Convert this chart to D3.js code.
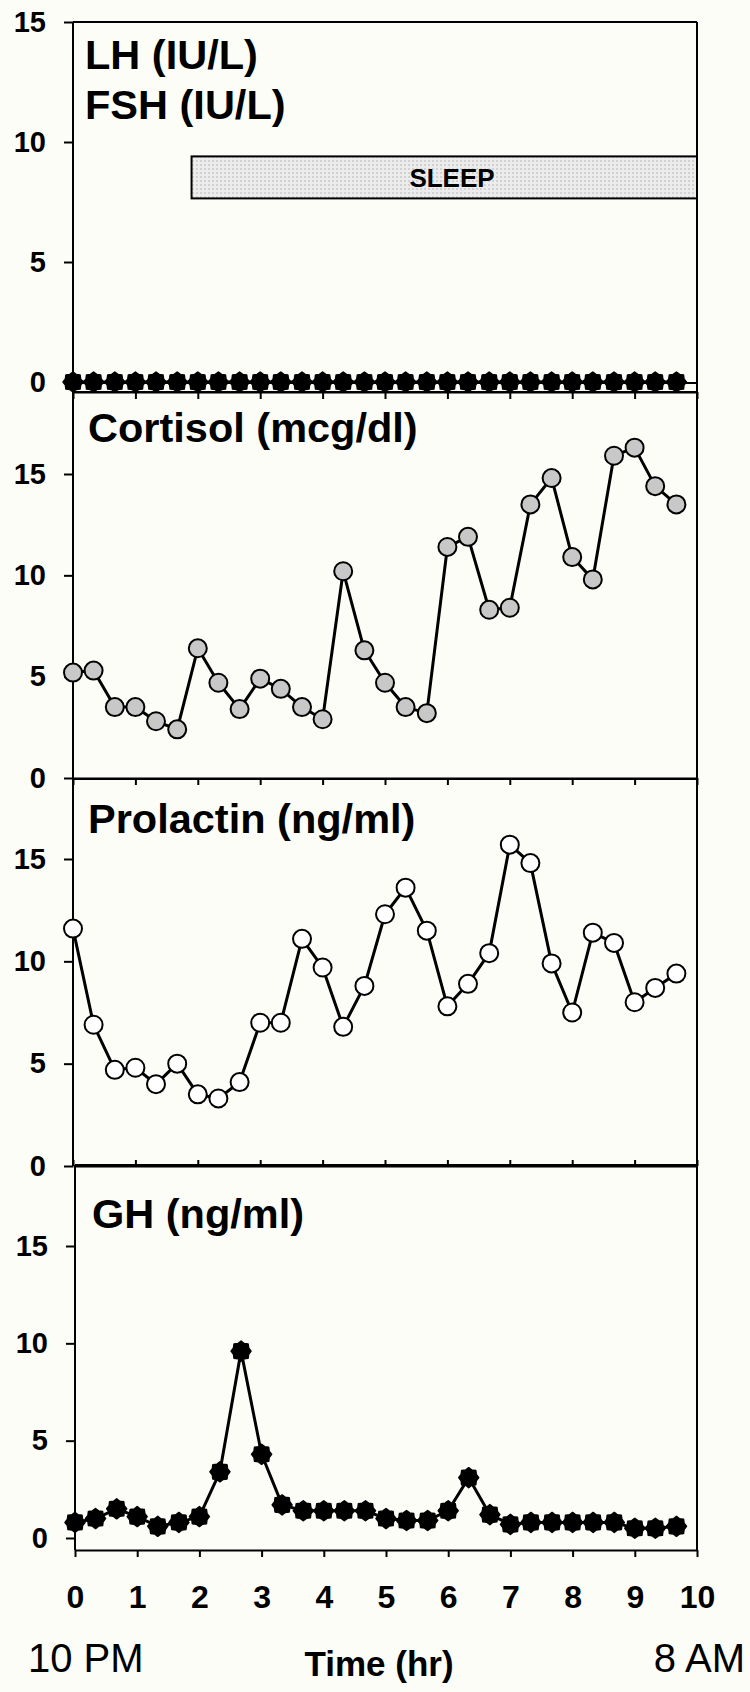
<!DOCTYPE html>
<html>
<head>
<meta charset="utf-8">
<script src="https://cdn.jsdelivr.net/npm/d3@7"></script>
<style>
  body { margin: 0; background: #fdfdf8; }
  svg { display: block; }
  text { font-family: "Liberation Sans", Arial, sans-serif; fill: #000; }
</style>
</head>
<body>
<svg id="chart"></svg>
<script>
// sample times (hr after 10 PM), one every 20 min
var hours = [0, 0.33, 0.67, 1, 1.33, 1.67, 2, 2.33, 2.67, 3, 3.33, 3.67, 4, 4.33, 4.67,
  5, 5.33, 5.67, 6, 6.33, 6.67, 7, 7.33, 7.67, 8, 8.33, 8.67, 9, 9.33, 9.67];

var lh = [0, 0, 0, 0, 0, 0, 0, 0, 0, 0, 0, 0, 0, 0, 0,
  0, 0, 0, 0, 0, 0, 0, 0, 0, 0, 0, 0, 0, 0, 0];
var cortisol = [5.2, 5.3, 3.5, 3.5, 2.8, 2.4, 6.4, 4.7, 3.4, 4.9, 4.4, 3.5, 2.9, 10.2, 6.3,
  4.7, 3.5, 3.2, 11.4, 11.9, 8.3, 8.4, 13.5, 14.8, 10.9, 9.8, 15.9, 16.3, 14.4, 13.5];
var prolactin = [11.6, 6.9, 4.7, 4.8, 4.0, 5.0, 3.5, 3.3, 4.1, 7.0, 7.0, 11.1, 9.7, 6.8, 8.8,
  12.3, 13.6, 11.5, 7.8, 8.9, 10.4, 15.7, 14.8, 9.9, 7.5, 11.4, 10.9, 8.0, 8.7, 9.4];
var gh = [0.8, 1.0, 1.5, 1.1, 0.6, 0.8, 1.1, 3.4, 9.6, 4.3, 1.7, 1.4, 1.4, 1.4, 1.4,
  1.0, 0.9, 0.9, 1.4, 3.1, 1.2, 0.7, 0.8, 0.8, 0.8, 0.8, 0.8, 0.5, 0.5, 0.6];

var xTicks = [0, 1, 2, 3, 4, 5, 6, 7, 8, 9, 10];
var yTicks = [0, 5, 10, 15];
var titles = [["LH (IU/L)", "FSH (IU/L)"], ["Cortisol (mcg/dl)"], ["Prolactin (ng/ml)"], ["GH (ng/ml)"]];
var sleepHours = [1.9, 10];
var sleepLevels = [7.65, 9.4];
var clockLabels = ["10 PM", "8 AM"];
var xTitle = "Time (hr)";

var W = 750, H = 1692, right = 697;

// layout of the four stacked panels
var panels = [
  { data: lh, top: 22, bottom: 392, zero: 382, y15: 22, left: 73, titleX: 85, titleY: [69, 119], marker: "star", fill: "#000", tick: 7 },
  { data: cortisol, top: 392, bottom: 778, zero: 778, y15: 474, left: 73, titleX: 88, titleY: [442], marker: "circle", fill: "#c8c8c8", tick: 7 },
  { data: prolactin, top: 779, bottom: 1166, zero: 1166, y15: 859, left: 73, titleX: 88, titleY: [833], marker: "circle", fill: "#fff", tick: -6 },
  { data: gh, top: 1165, bottom: 1550, zero: 1538, y15: 1246, left: 75, titleX: 92, titleY: [1228], marker: "star", fill: "#000", tick: 7 }
];

var svg = d3.select("#chart").attr("width", W).attr("height", H);

var defs = svg.append("defs");
var pat = defs.append("pattern").attr("id", "dots")
  .attr("width", 4).attr("height", 4).attr("patternUnits", "userSpaceOnUse");
pat.append("rect").attr("width", 4).attr("height", 4).attr("fill", "#ececec");
pat.append("rect").attr("width", 2).attr("height", 2).attr("fill", "#d2d2d2");

function starPath(r1, r2, n) {
  var pts = [];
  for (var i = 0; i < 2 * n; i++) {
    var a = i * Math.PI / n - Math.PI / 2;
    var r = i % 2 ? r2 : r1;
    pts.push([r * Math.cos(a), r * Math.sin(a)]);
  }
  return d3.line()(pts) + "Z";
}
var star = starPath(10, 8.2, 8);

panels.forEach(function(p, pi) {
  var x = d3.scaleLinear().domain([0, 10]).range([p.left, right]);
  var y = d3.scaleLinear().domain([0, 15]).range([p.zero, p.y15]);
  var g = svg.append("g").attr("class", "panel_" + pi);

  // frame
  var frame = "M" + p.left + "," + p.top + "V" + p.bottom + "M" + right + "," + p.top + "V" + p.bottom;
  if (pi == 0) frame += "M" + p.left + "," + p.top + "H" + right + "M" + p.left + "," + (p.zero + 1) + "H" + right;
  else frame += "M" + p.left + "," + p.top + "H" + right;
  g.append("path").attr("d", frame).attr("fill", "none").attr("stroke", "#000").attr("stroke-width", 2);

  // sleep bar in the top panel
  if (pi == 0) {
    g.append("rect")
      .attr("x", x(sleepHours[0]))
      .attr("y", y(sleepLevels[1]))
      .attr("width", x(sleepHours[1]) - x(sleepHours[0]))
      .attr("height", y(sleepLevels[0]) - y(sleepLevels[1]))
      .attr("fill", "url(#dots)")
      .attr("stroke", "#000")
      .attr("stroke-width", 2);
    g.append("text")
      .attr("x", 452)
      .attr("y", 187)
      .attr("text-anchor", "middle")
      .attr("font-size", 26)
      .attr("font-weight", "bold")
      .text("SLEEP");
  }

  // y axis
  var yAxis = g.append("g")
    .attr("transform", "translate(" + p.left + ",0)")
    .call(d3.axisLeft(y).tickValues(yTicks).tickSize(9).tickPadding(18).tickSizeOuter(0));
  yAxis.select(".domain").remove();
  yAxis.selectAll("line").attr("stroke", "#000").attr("stroke-width", 2);
  yAxis.selectAll("text").attr("font-size", 29).attr("font-weight", "bold")
    .attr("font-family", "Liberation Sans, Arial, sans-serif");

  // x axis
  var xAxis = g.append("g")
    .attr("transform", "translate(0," + p.bottom + ")")
    .call(d3.axisBottom(x).tickValues(xTicks).tickSize(p.tick).tickSizeOuter(0)
      .tickPadding(28).tickFormat(pi == 3 ? d3.format("d") : ""));
  xAxis.select(".domain").attr("stroke", "#000").attr("stroke-width", 2);
  xAxis.selectAll("line").attr("stroke", "#000").attr("stroke-width", 2);
  xAxis.selectAll("text").attr("font-size", 32).attr("font-weight", "bold")
    .attr("font-family", "Liberation Sans, Arial, sans-serif");

  // titles
  titles[pi].forEach(function(t, ti) {
    g.append("text")
      .attr("x", p.titleX)
      .attr("y", p.titleY[ti])
      .attr("font-size", 41.5)
      .attr("font-weight", "bold")
      .text(t);
  });

  var pts = p.data.map(function(v, i) { return [hours[i], v]; });

  // little stems under the LH/FSH markers
  if (pi == 0) {
    g.selectAll(".stem").data(pts).join("path")
      .attr("class", "stem")
      .attr("d", function(d) {
        var cx = x(d[0]), cy = y(d[1]);
        return "M" + cx + "," + cy + "V" + (cy + 7) + "M" + (cx - 5) + "," + (cy + 7) + "H" + (cx + 5);
      })
      .attr("stroke", "#000").attr("stroke-width", 2).attr("fill", "none");
  }

  g.append("path")
    .datum(pts)
    .attr("d", d3.line().x(function(d) { return x(d[0]); }).y(function(d) { return y(d[1]); }))
    .attr("fill", "none")
    .attr("stroke", "#000")
    .attr("stroke-width", 3)
    .attr("stroke-linejoin", "round");

  if (p.marker == "circle") {
    g.selectAll(".dot").data(pts).join("circle")
      .attr("class", "dot")
      .attr("cx", function(d) { return x(d[0]); })
      .attr("cy", function(d) { return y(d[1]); })
      .attr("r", 9)
      .attr("fill", p.fill)
      .attr("stroke", "#000")
      .attr("stroke-width", 2);
  } else {
    g.selectAll(".dot").data(pts).join("path")
      .attr("class", "dot")
      .attr("transform", function(d) { return "translate(" + x(d[0]) + "," + y(d[1]) + ")"; })
      .attr("d", star)
      .attr("fill", p.fill)
      .attr("stroke", p.fill)
      .attr("stroke-width", 1.5)
      .attr("stroke-linejoin", "round");
  }
});

// bottom labels
svg.append("text").attr("x", 28).attr("y", 1672).attr("font-size", 40).text(clockLabels[0]);
svg.append("text").attr("x", 745).attr("y", 1672).attr("font-size", 40)
  .attr("text-anchor", "end").text(clockLabels[1]);
svg.append("text").attr("x", 379).attr("y", 1676).attr("font-size", 35)
  .attr("font-weight", "bold").attr("text-anchor", "middle").text(xTitle);
</script>
</body>
</html>
